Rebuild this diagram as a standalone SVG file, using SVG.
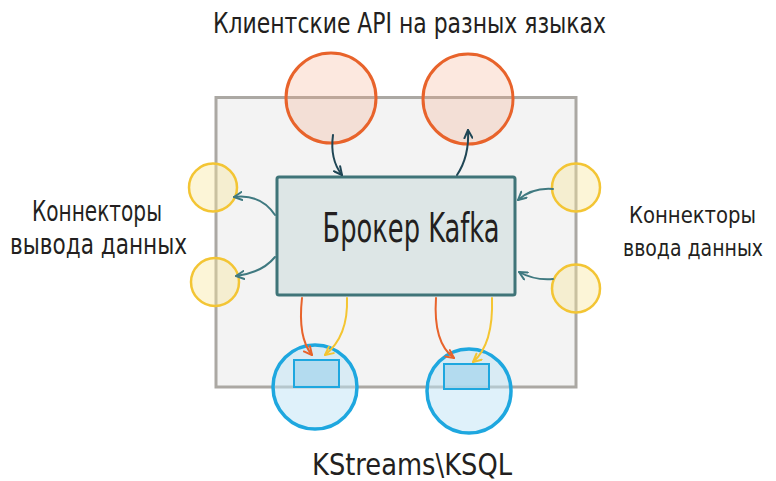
<svg xmlns="http://www.w3.org/2000/svg" width="776" height="481" viewBox="0 0 776 481">
<defs>
<style>
.lbl{font-family:"Liberation Sans Narrow","DejaVu Sans Condensed","Liberation Sans",sans-serif;fill:#231f20}
.orange{fill:#f2a27e;fill-opacity:0.25;stroke:#e8632b;stroke-width:3}
.yellow{fill:#f8e69a;fill-opacity:0.4;stroke:#f3c534;stroke-width:2.5}
.blue{fill:#bfe3f5;fill-opacity:0.5;stroke:#1ea7df;stroke-width:3.5}
.inner{fill:#a9d7ee;fill-opacity:0.8;stroke:#1ea7df;stroke-width:2}
.c{fill:none;stroke-width:2;stroke-linecap:round}
.dark{stroke:#1f4655}
.teal{stroke:#3f7980}
.or{stroke:#e8632b}
.ye{stroke:#f4c531}
</style>
<marker id="aDark" viewBox="0 0 10 10" refX="9" refY="5" markerWidth="10" markerHeight="10" markerUnits="userSpaceOnUse" orient="auto"><path d="M1,1 L9,5 L1,9" fill="none" stroke="#1f4655" stroke-width="2" stroke-linecap="round" stroke-linejoin="round"/></marker>
<marker id="aTeal" viewBox="0 0 10 10" refX="9" refY="5" markerWidth="10" markerHeight="10" markerUnits="userSpaceOnUse" orient="auto"><path d="M1,1 L9,5 L1,9" fill="none" stroke="#3f7980" stroke-width="2" stroke-linecap="round" stroke-linejoin="round"/></marker>
<marker id="aOr" viewBox="0 0 10 10" refX="9" refY="5" markerWidth="10" markerHeight="10" markerUnits="userSpaceOnUse" orient="auto"><path d="M1,1 L9,5 L1,9" fill="none" stroke="#e8632b" stroke-width="2" stroke-linecap="round" stroke-linejoin="round"/></marker>
<marker id="aYe" viewBox="0 0 10 10" refX="9" refY="5" markerWidth="10" markerHeight="10" markerUnits="userSpaceOnUse" orient="auto"><path d="M1,1 L9,5 L1,9" fill="none" stroke="#f4c531" stroke-width="2" stroke-linecap="round" stroke-linejoin="round"/></marker>
</defs>
<rect width="776" height="481" fill="#ffffff"/>

<g id="frame">
<rect x="216" y="97.5" width="360" height="289.5" fill="#f3f3f3" stroke="#aba8a3" stroke-width="3"/>
</g>

<g id="broker">
<rect x="277" y="177" width="238" height="118" rx="2" fill="#dde6e6" stroke="#3f7478" stroke-width="3"/>
<text class="lbl" x="411" y="242" font-size="40" text-anchor="middle" textLength="177" lengthAdjust="spacingAndGlyphs">Брокер Kafka</text>
</g>

<g id="client-api-1"><circle class="orange" cx="331" cy="98" r="45"/></g>
<g id="client-api-2"><circle class="orange" cx="468" cy="99" r="45"/></g>

<g id="sink-1"><circle class="yellow" cx="213" cy="187.5" r="24"/></g>
<g id="sink-2"><circle class="yellow" cx="215" cy="282" r="24"/></g>
<g id="source-1"><circle class="yellow" cx="576" cy="187.5" r="24"/></g>
<g id="source-2"><circle class="yellow" cx="576" cy="288.5" r="24"/></g>

<g id="kstreams-1">
<circle class="blue" cx="315" cy="387" r="42"/>
<rect class="inner" x="294" y="360" width="45" height="27"/>
</g>
<g id="kstreams-2">
<circle class="blue" cx="469" cy="391" r="42"/>
<rect class="inner" x="444" y="364" width="45" height="25"/>
</g>

<g id="connectors">
<path class="c dark" d="M333,135 C331,150 334,165 342,175" marker-end="url(#aDark)"/>
<path class="c dark" d="M457,175 C465,163 469,148 468,130" marker-end="url(#aDark)"/>
<path class="c teal" d="M275,215 C265,200 250,195 234,197" marker-end="url(#aTeal)"/>
<path class="c teal" d="M275,257 C266,268 252,274 236,276" marker-end="url(#aTeal)"/>
<path class="c teal" d="M553,189 C540,188 527,192 518,200" marker-end="url(#aTeal)"/>
<path class="c teal" d="M553,279 C541,280 528,277 519,272" marker-end="url(#aTeal)"/>
<path class="c or" d="M302,298 C299,325 302,343 312,355" marker-end="url(#aOr)"/>
<path class="c ye" d="M347,298 C348,325 340,343 325,355" marker-end="url(#aYe)"/>
<path class="c or" d="M436,298 C434,328 440,348 454,358" marker-end="url(#aOr)"/>
<path class="c ye" d="M492,298 C493,328 487,350 473,362" marker-end="url(#aYe)"/>
</g>

<g id="labels">
<text class="lbl" x="409.5" y="33" font-size="28" text-anchor="middle" textLength="393" lengthAdjust="spacingAndGlyphs">Клиентские API на разных языках</text>
<text class="lbl" x="97" y="221" font-size="29" text-anchor="middle" textLength="130" lengthAdjust="spacingAndGlyphs">Коннекторы</text>
<text class="lbl" x="98.5" y="254" font-size="29" text-anchor="middle" textLength="177" lengthAdjust="spacingAndGlyphs">вывода данных</text>
<text class="lbl" x="629" y="223" font-size="23" textLength="127" lengthAdjust="spacingAndGlyphs">Коннекторы</text>
<text class="lbl" x="623" y="256" font-size="23" textLength="140" lengthAdjust="spacingAndGlyphs">ввода данных</text>
<text class="lbl" x="412" y="475" font-size="30" text-anchor="middle" textLength="200" lengthAdjust="spacingAndGlyphs">KStreams\KSQL</text>
</g>
</svg>
